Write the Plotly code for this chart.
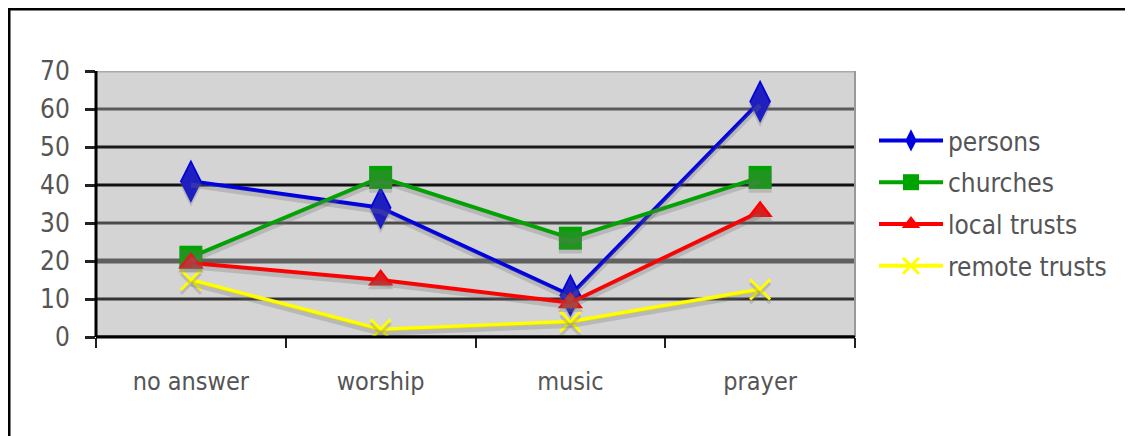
import plotly.graph_objects as go

categories = ["no answer", "worship", "music", "prayer"]
persons = [41, 34, 11, 62]
churches = [21, 42, 26, 42]
local_trusts = [19.5, 15, 9, 33]
remote_trusts = [15, 2, 4, 12.5]
y_ticks = [0, 10, 20, 30, 40, 50, 60, 70]
grid_colors = ["#000000", "#333333", "#606060", "#4a4a4a", "#111111", "#1a1a1a", "#5a5a5a", "#aaaaaa"]
grid_widths = [3, 3, 5, 3, 3, 3, 3, 3]

series = [
    ("persons", persons, "#0000e0", "diamond-tall", 31),
    ("churches", churches, "#00a400", "square", 23),
    ("local trusts", local_trusts, "#ff0000", "triangle-up", 22),
    ("remote trusts", remote_trusts, "#ffff00", "x-thin-open", 20),
]

# body margin of the page is 8px: figure positions = window positions - 8
OFF = 8
W, H = 1133 - OFF, 436 - OFF
L, T = 96 - OFF, 71 - OFF
pw, ph = 855 - 96, 337 - 71
R, B = W - L - pw, H - T - ph

fig = go.Figure()
shadow = "rgba(110,110,110,0.28)"
for name, vals, color, sym, size in series:
    fig.add_trace(go.Scatter(
        x=categories, y=vals, mode="lines+markers", yaxis="y2",
        line=dict(color=shadow, width=5),
        marker=dict(symbol=sym, size=size, color=shadow,
                    line=dict(color=shadow, width=3 if sym.startswith("x") else 0)),
        showlegend=False, hoverinfo="skip",
    ))
for name, vals, color, sym, size in series:
    fig.add_trace(go.Scatter(
        x=categories, y=vals, name=name, mode="lines+markers",
        line=dict(color=color, width=4),
        marker=dict(symbol=sym, size=size, color=color,
                    line=dict(color=color, width=3 if sym.startswith("x") else 0)),
        legendgroup=name,
    ))

def px(x):
    return (x - OFF - L) / pw

def py(y):
    return (H - B - (y - OFF)) / ph

font = "DejaVu Sans Condensed, DejaVu Sans"
shapes = []
for v, c, w in zip(y_ticks, grid_colors, grid_widths):
    shapes.append(dict(type="line", xref="paper", yref="y", x0=0, x1=1, y0=v, y1=v,
                       line=dict(color=c, width=w), layer="below"))
shapes += [
    dict(type="line", xref="paper", yref="paper", x0=px(8), x1=px(1133),
         y0=py(9), y1=py(9), line=dict(color="black", width=3)),
    dict(type="line", xref="paper", yref="paper", x0=px(9), x1=px(9),
         y0=py(9), y1=py(436), line=dict(color="black", width=3)),
    dict(type="line", xref="paper", yref="paper", x0=0, x1=0,
         y0=0, y1=1, line=dict(color="black", width=3), layer="above"),
    dict(type="line", xref="paper", yref="paper", x0=0, x1=1,
         y0=0, y1=0, line=dict(color="black", width=3), layer="above"),
    dict(type="line", xref="paper", yref="paper", x0=1, x1=1,
         y0=0, y1=1, line=dict(color="#999", width=2), layer="below"),
]

fig.update_layout(
    width=W, height=H,
    margin=dict(l=L, r=R, t=T, b=B),
    paper_bgcolor="white",
    plot_bgcolor="#d4d4d4",
    showlegend=True,
    legend=dict(x=px(874), y=py(117), xanchor="left", yanchor="top",
                font=dict(family=font, size=26, color="#555555"),
                tracegroupgap=5, itemwidth=64, bgcolor="rgba(0,0,0,0)"),
    xaxis=dict(type="category", tickson="boundaries", ticks="outside",
               ticklen=10, tickwidth=2, tickcolor="#222",
               showgrid=False, showline=False, zeroline=False,
               tickfont=dict(family=font, size=25, color="#555555"),
               ticklabelstandoff=27, range=[-0.5, 3.5]),
    yaxis=dict(range=[0, 70], tickvals=y_ticks, ticks="outside", ticklen=10,
               tickwidth=3, tickcolor="#222", showgrid=False, zeroline=False, showline=False,
               tickfont=dict(family=font, size=26, color="#555555"),
               ticklabelstandoff=10),
    yaxis2=dict(range=[1.0, 71.0], overlaying="y", visible=False),
    shapes=shapes,
)

fig.write_html("out.html")
